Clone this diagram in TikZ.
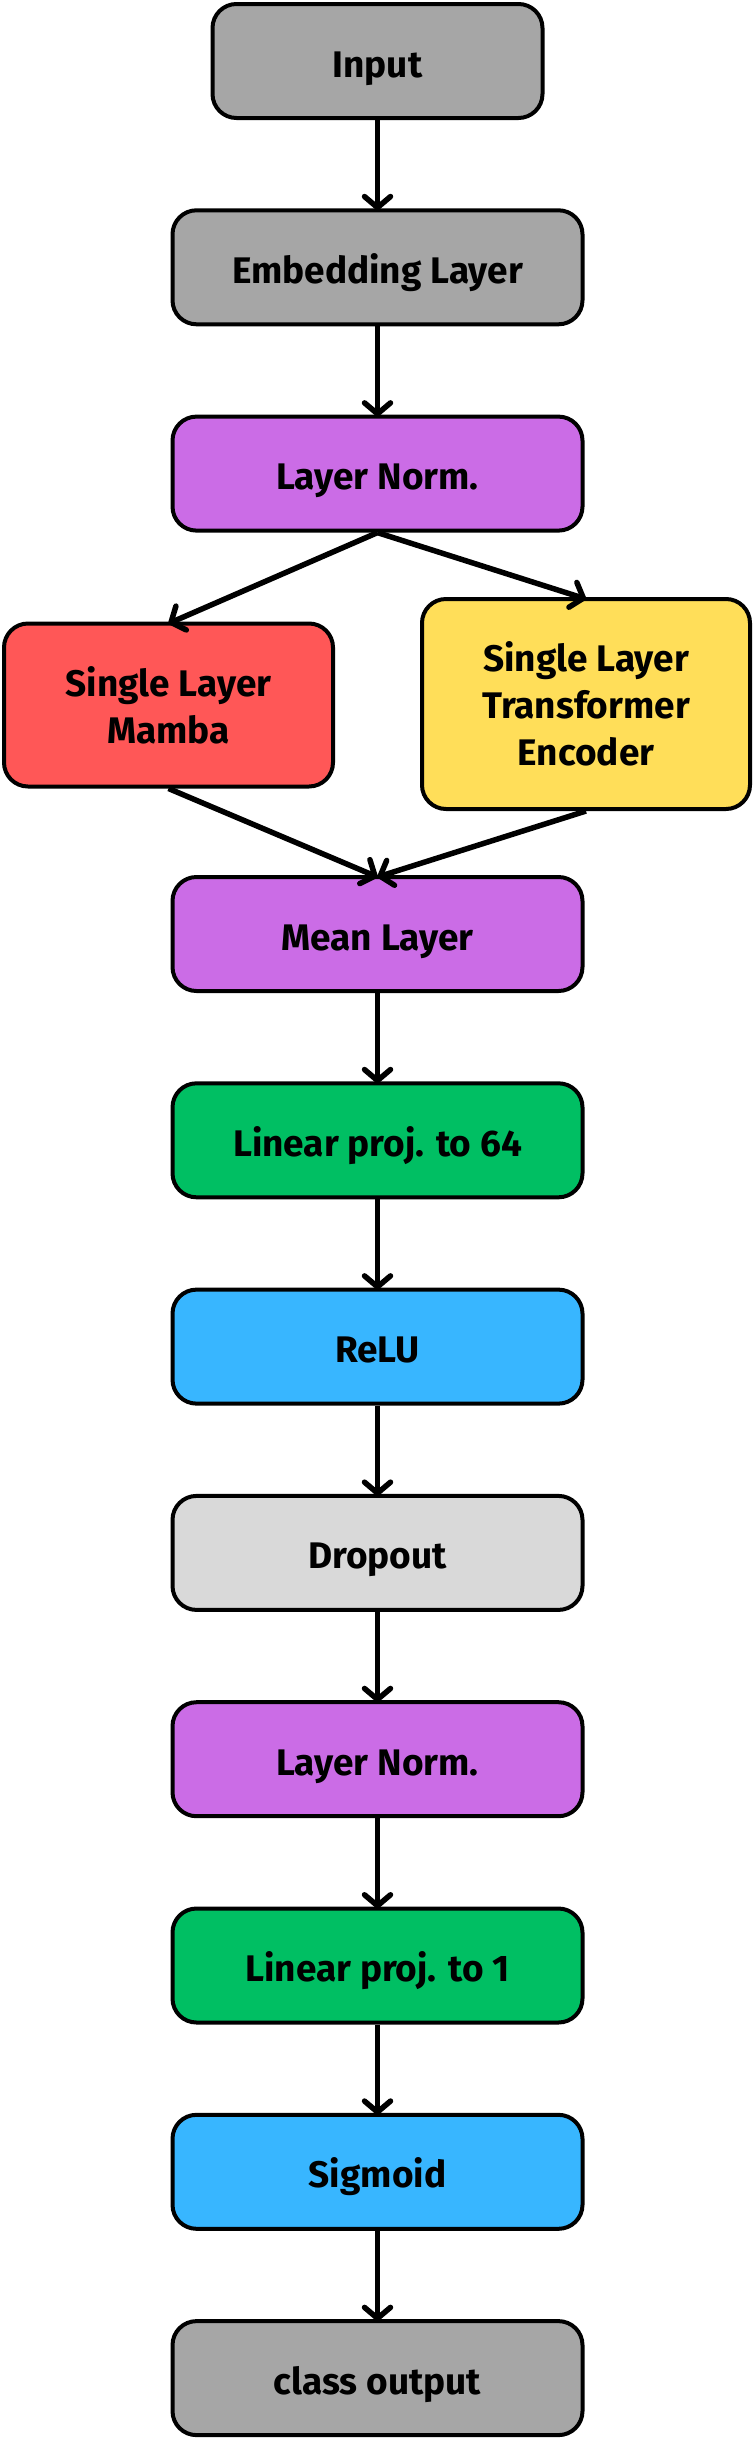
\documentclass[tikz,border=0pt]{standalone}
\usepackage{fontspec}
\setmainfont{Fira Sans}
\usetikzlibrary{arrows.meta}
\definecolor{cgray}{HTML}{A6A6A6}
\definecolor{cpurple}{HTML}{CB6CE6}
\definecolor{cred}{HTML}{FF5757}
\definecolor{cyellow}{HTML}{FFDE59}
\definecolor{cgreen}{HTML}{00BF63}
\definecolor{cblue}{HTML}{38B6FF}
\definecolor{clight}{HTML}{D9D9D9}
\tikzset{
  blk/.style={draw=black, line width=4pt, rounded corners=24pt, align=center,
    minimum width=410pt, minimum height=114pt, inner sep=0pt,
    font=\fontsize{37pt}{47pt}\selectfont\bfseries, text=black},
  oneline/.style={blk, text height=36pt, text depth=4pt},
  conn/.style={line width=5.5pt, -{Straight Barb[length=11pt,width=26pt,round]}}
}
\begin{document}
\begin{tikzpicture}[x=1pt,y=-1pt]
\useasboundingbox[fill=white] (0,0) rectangle (755,2441);
\node[oneline, fill=cgray, minimum width=330pt] (in) at (377.5,61) {Input};
\node[oneline, fill=cgray] (emb) at (377.5,267.3) {Embedding Layer};
\node[oneline, fill=cpurple] (ln1) at (377.5,473.6) {Layer Norm.};
\node[blk, fill=cred, minimum width=329pt, minimum height=163pt] (mamba) at (168.5,705) {Single Layer\\Mamba};
\node[blk, fill=cyellow, minimum width=328pt, minimum height=210pt] (trans) at (586,704) {Single Layer\\Transformer\\Encoder};
\node[oneline, fill=cpurple] (mean) at (377.5,934) {Mean Layer};
\node[oneline, fill=cgreen] (lin64) at (377.5,1140.3) {Linear proj. to 64};
\node[oneline, fill=cblue] (relu) at (377.5,1346.6) {ReLU};
\node[oneline, fill=clight] (drop) at (377.5,1552.9) {Dropout};
\node[oneline, fill=cpurple] (ln2) at (377.5,1759.2) {Layer Norm.};
\node[oneline, fill=cgreen] (lin1) at (377.5,1965.5) {Linear proj. to 1};
\node[oneline, fill=cblue] (sig) at (377.5,2171.8) {Sigmoid};
\node[oneline, fill=cgray] (out) at (377.5,2378.1) {class output};
\draw[conn] (in.south) -- ([yshift=-2pt]emb.north);
\draw[conn] (emb.south) -- ([yshift=-2pt]ln1.north);
\draw[conn] (ln1.south) -- ([yshift=-2pt]mamba.north);
\draw[conn] (ln1.south) -- ([yshift=-2pt]trans.north);
\draw[conn] (mamba.south) -- ([yshift=-2pt]mean.north);
\draw[conn] (trans.south) -- ([yshift=-2pt]mean.north);
\draw[conn] (mean.south) -- ([yshift=-2pt]lin64.north);
\draw[conn] (lin64.south) -- ([yshift=-2pt]relu.north);
\draw[conn] (relu.south) -- ([yshift=-2pt]drop.north);
\draw[conn] (drop.south) -- ([yshift=-2pt]ln2.north);
\draw[conn] (ln2.south) -- ([yshift=-2pt]lin1.north);
\draw[conn] (lin1.south) -- ([yshift=-2pt]sig.north);
\draw[conn] (sig.south) -- ([yshift=-2pt]out.north);
\end{tikzpicture}
\end{document}
